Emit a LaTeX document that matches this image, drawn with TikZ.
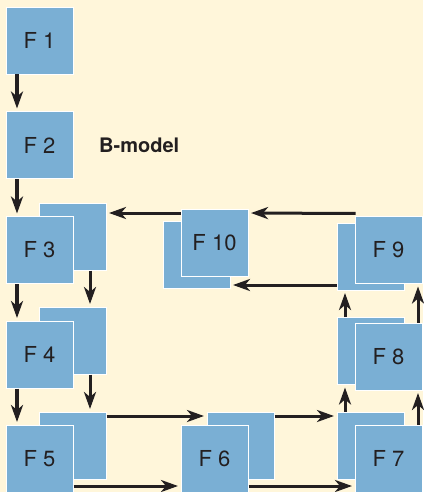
\documentclass[tikz,border=0pt]{standalone}
\usepackage{fontspec}
\setmainfont{TeX Gyre Heros}
\usetikzlibrary{calc,arrows.meta}
\definecolor{bg}{HTML}{FFF6DA}
\definecolor{boxblue}{HTML}{7AAFD4}
\definecolor{ink}{HTML}{231F20}
\begin{document}
\begin{tikzpicture}[x=1bp,y=-1bp,
  fbox/.style={draw=white,line width=0.9bp,fill=boxblue,minimum width=67bp,minimum height=67bp,
    inner sep=0pt,outer sep=0pt,text=ink,font=\fontsize{22bp}{24bp}\selectfont},
  arr/.style={draw=ink,line width=3bp,-{Stealth[length=17bp,width=12bp,inset=5bp]},shorten >=3bp,shorten <=0.5bp}]
\fill[bg] (0,0) rectangle (423,492);
\useasboundingbox (0,0) rectangle (423,492);
% column 1
\node[fbox] (F1) at (39.5,40.5) {F 1};
\node[fbox] (F2) at (39.5,145) {F 2};
\node[fbox] (F3b) at (72.5,236.5) {};
\node[fbox] (F3f) at (39.5,250) {F 3};
\node[fbox] (F4b) at (72.5,340.5) {};
\node[fbox] (F4f) at (39.5,354.5) {F 4};
\node[fbox] (F5b) at (72.5,445.5) {};
\node[fbox] (F5f) at (39.5,458.5) {F 5};
% bottom row
\node[fbox] (F6b) at (240.5,445.5) {};
\node[fbox] (F6f) at (214.5,458.5) {F 6};
\node[fbox] (F7b) at (370.5,445.5) {};
\node[fbox] (F7f) at (388.5,458.5) {F 7};
% right column
\node[fbox] (F8b) at (370.5,351) {};
\node[fbox] (F8f) at (388.5,356.5) {F 8};
\node[fbox] (F9b) at (370.5,256.5) {};
\node[fbox] (F9f) at (388.5,250) {F 9};
% F10
\node[fbox] (F10b) at (196.5,254.5) {};
\node[fbox] (F10f) at (214.5,242.5) {F 10};
% label
\node[anchor=west,inner sep=0pt,text=ink,font=\bfseries\fontsize{20bp}{22bp}\selectfont] (lbl) at (99,145) {B-model};
% arrows down
\draw[arr] ($(F1.south west)+(11,0)$) -- ($(F2.north west)+(11,0)$);
\draw[arr] ($(F2.south west)+(11,0)$) -- ($(F3f.north west)+(11,0)$);
\draw[arr] ($(F3f.south west)+(11,0)$) -- ($(F4f.north west)+(11,0)$);
\draw[arr] ($(F4f.south west)+(11,0)$) -- ($(F5f.north west)+(11,0)$);
\draw[arr] ($(F3b.south west)+(51,0)$) -- ($(F4b.north west)+(51,0)$);
\draw[arr] ($(F4b.south west)+(51,0)$) -- ($(F5b.north west)+(51,0)$);
% arrows right
\draw[arr] ($(F5b.north east)+(0,4)$) -- ($(F6b.north west)+(0,4)$);
\draw[arr] ($(F6b.north east)+(0,4)$) -- ($(F7b.north west)+(0,4)$);
\draw[arr] ($(F5f.south east)+(0,-6)$) -- ($(F6f.south west)+(0,-6)$);
\draw[arr] ($(F6f.south east)+(0,-6)$) -- ($(F7f.south west)+(0,-6)$);
% arrows up
\draw[arr] ($(F7b.north west)+(8,0)$) -- ($(F8b.south west)+(8,0)$);
\draw[arr] ($(F8b.north west)+(8,0)$) -- ($(F9b.south west)+(8,0)$);
\draw[arr] ($(F7f.north east)+(-4,0)$) -- ($(F8f.south east)+(-4,0)$);
\draw[arr] ($(F8f.north east)+(-4,0)$) -- ($(F9f.south east)+(-4,0)$);
% arrows left
\draw[arr] ($(F9f.north west)+(1,-3)$) -- ($(F10f.north east)+(0,4)$);
\draw[arr] ($(F10f.north west)+(0,4)$) -- ($(F3b.north east)+(0,10)$);
\draw[arr] ($(F9b.south west)+(0,-5)$) -- ($(F10b.south east)+(0,-3)$);
\end{tikzpicture}
\end{document}
